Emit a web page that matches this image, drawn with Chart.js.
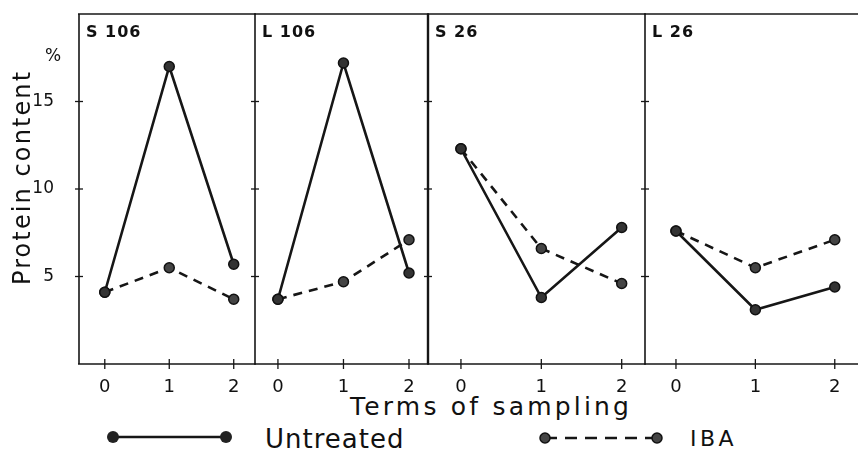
<!DOCTYPE html>
<html>
<head>
<meta charset="utf-8">
<script src="https://cdn.jsdelivr.net/npm/chart.js@4.4.1/dist/chart.umd.min.js"></script>
<style>
html, body { margin: 0; padding: 0; background: #fff; }
#wrap { position: relative; width: 858px; height: 451px; overflow: hidden; font-family: "DejaVu Sans", sans-serif; color: #111; }
#wrap canvas { position: absolute; top: 0; }
.lbl { position: absolute; white-space: nowrap; line-height: 1; }
</style>
</head>
<body>
<div id="wrap">
  <div class="lbl" style="left:350px;top:394px;font-size:25px;letter-spacing:3.2px">Terms of sampling</div>
  <svg style="position:absolute;left:0;top:420px" width="858" height="31">
    <line x1="113" y1="17" x2="226" y2="17" stroke="#161616" stroke-width="2.6"/>
    <circle cx="113" cy="17" r="6" fill="#222"/>
    <circle cx="226" cy="17" r="6" fill="#222"/>
    <line x1="545" y1="18" x2="657" y2="18" stroke="#161616" stroke-width="2.6" stroke-dasharray="12 8"/>
    <circle cx="545" cy="18" r="5" fill="#444" stroke="#111" stroke-width="1.5"/>
    <circle cx="657" cy="18" r="5" fill="#444" stroke="#111" stroke-width="1.5"/>
  </svg>
  <div class="lbl" style="left:265px;top:426px;font-size:26px;letter-spacing:1px">Untreated</div>
  <div class="lbl" style="left:690px;top:428px;font-size:22px;letter-spacing:3.5px">IBA</div>
</div>
<script>
// Data
const terms = [0, 1, 2];
const xTicks = [0, 1, 2];
const yTicks = [5, 10, 15];
const panelNames = ["S 106", "L 106", "S 26", "L 26"];

const untreatedS106 = [4.1, 17.0, 5.7];
const ibaS106 = [4.1, 5.5, 3.7];
const untreatedL106 = [3.7, 17.2, 5.2];
const ibaL106 = [3.7, 4.7, 7.1];
const untreatedS26 = [12.3, 3.8, 7.8];
const ibaS26 = [12.3, 6.6, 4.6];
const untreatedL26 = [7.6, 3.1, 4.4];
const ibaL26 = [7.6, 5.5, 7.1];

// panel layout (page pixels)
const panels = [
    { name: panelNames[0], untreated: untreatedS106, iba: ibaS106, left: 79, right: 255, xMin: -0.40, xMax: 2.33 },
    { name: panelNames[1], untreated: untreatedL106, iba: ibaL106, left: 255, right: 428, xMin: -0.35, xMax: 2.29 },
    { name: panelNames[2], untreated: untreatedS26, iba: ibaS26, left: 428, right: 645, xMin: -0.41, xMax: 2.29 },
    { name: panelNames[3], untreated: untreatedL26, iba: ibaL26, left: 645, right: 857, xMin: -0.39, xMax: 2.28 }
];

const ink = "#161616";

function line(ctx, x1, y1, x2, y2) {
    ctx.beginPath();
    ctx.moveTo(x1, y1);
    ctx.lineTo(x2, y2);
    ctx.stroke();
}

// no extra room for labels, the layout is fixed
function noPad(s) {
    s.paddingTop = 0;
    s.paddingBottom = 0;
    s.paddingLeft = 0;
    s.paddingRight = 0;
}

// frame, cross ticks and panel label
const framePlugin = {
    id: "frame",
    beforeDatasetsDraw(chart, args, opts) {
        const { ctx, chartArea: a, scales: { x, y } } = chart;
        ctx.save();
        ctx.strokeStyle = ink;
        ctx.lineWidth = opts.thick ? 2.4 : 1.6;
        line(ctx, a.left, a.top, a.left, a.bottom);
        ctx.lineWidth = 1.6;
        line(ctx, a.left - 1, a.top, a.right + 1, a.top);
        line(ctx, a.left - 1, a.bottom, a.right + 1, a.bottom);

        ctx.lineWidth = 1.3;
        yTicks.forEach(v => {
            const py = y.getPixelForValue(v);
            line(ctx, a.left - 4, py, a.left + 4, py);
        });
        xTicks.forEach(v => {
            const px = x.getPixelForValue(v);
            line(ctx, px, a.bottom - 5, px, a.bottom + 5);
        });

        ctx.fillStyle = "#111";
        ctx.font = "bold 16px 'DejaVu Sans'";
        ctx.letterSpacing = "1px";
        ctx.textAlign = "left";
        ctx.textBaseline = "alphabetic";
        ctx.fillText(opts.label, a.left + 7, a.top + 23);

        if (opts.yTitle) {
            ctx.font = "17px 'DejaVu Sans'";
            ctx.letterSpacing = "0px";
            ctx.fillText("%", 45, 61);
            ctx.save();
            ctx.translate(30, 285);
            ctx.rotate(-Math.PI / 2);
            ctx.font = "24px 'DejaVu Sans'";
            ctx.letterSpacing = "2.1px";
            ctx.fillText(opts.yTitle, 0, 0);
            ctx.restore();
        }
        ctx.restore();
    }
};

const wrap = document.getElementById("wrap");

panels.forEach((p, i) => {
    const padL = i === 0 ? 79 : 10;
    const padR = i === panels.length - 1 ? 1 : 10;
    const canvas = document.createElement("canvas");
    canvas.width = p.right - p.left + padL + padR;
    canvas.height = 451;
    canvas.style.left = (p.left - padL) + "px";
    wrap.appendChild(canvas);

    new Chart(canvas.getContext("2d"), {
        type: "line",
        data: {
            datasets: [{
                label: "Untreated",
                data: terms.map((t, k) => ({ x: t, y: p.untreated[k] })),
                borderColor: ink,
                borderWidth: 2.6,
                pointRadius: 5,
                pointBackgroundColor: "#333",
                pointBorderColor: "#111",
                pointBorderWidth: 1.5,
                tension: 0
            }, {
                label: "IBA",
                data: terms.map((t, k) => ({ x: t, y: p.iba[k] })),
                borderColor: ink,
                borderWidth: 2.6,
                borderDash: [9, 7],
                pointRadius: 5,
                pointBackgroundColor: "#444",
                pointBorderColor: "#111",
                pointBorderWidth: 1.5,
                tension: 0
            }]
        },
        options: {
            responsive: false,
            animation: false,
            layout: { autoPadding: false, padding: { top: 14, left: 0, right: padR, bottom: 0 } },
            plugins: {
                legend: { display: false },
                tooltip: { enabled: false },
                frame: { label: p.name, yTitle: i === 0 ? "Protein content" : null, thick: i === 2 }
            },
            scales: {
                x: {
                    type: "linear",
                    min: p.xMin,
                    max: p.xMax,
                    afterBuildTicks: s => { s.ticks = xTicks.map(v => ({ value: v })); },
                    afterFit: s => { s.height = 87; noPad(s); },
                    grid: { display: false },
                    border: { display: false },
                    ticks: { color: "#111", padding: 5, font: { family: "DejaVu Sans", size: 18 } }
                },
                y: {
                    min: 0,
                    max: 20,
                    afterBuildTicks: s => { s.ticks = yTicks.map(v => ({ value: v })); },
                    afterFit: s => { s.width = padL; noPad(s); },
                    grid: { display: false },
                    border: { display: false },
                    ticks: { display: i === 0, color: "#111", padding: 17, font: { family: "DejaVu Sans", size: 17 } }
                }
            }
        },
        plugins: [framePlugin]
    });
});
</script>
</body>
</html>
